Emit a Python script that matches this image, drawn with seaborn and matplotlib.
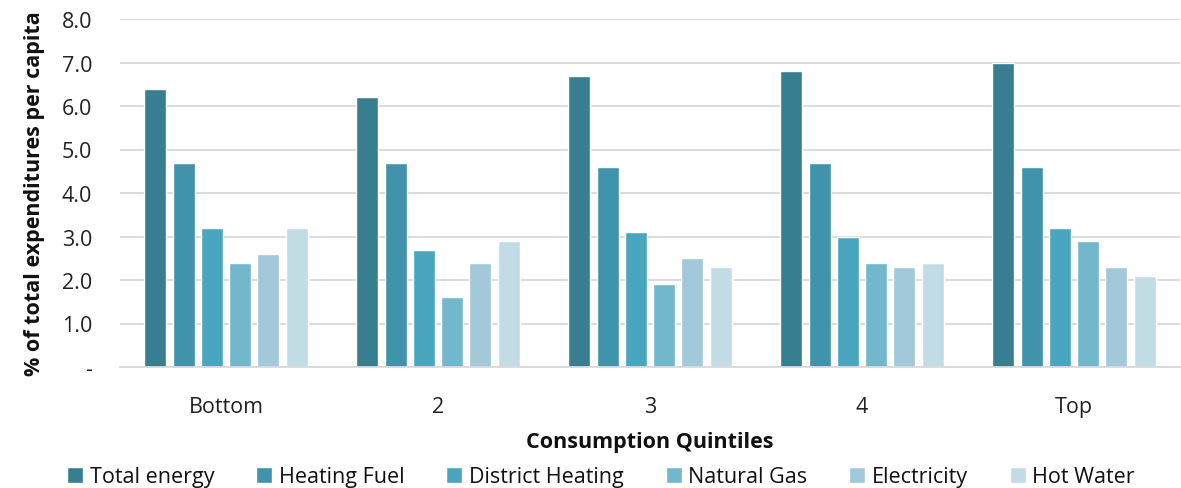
import matplotlib
matplotlib.use("Agg")
import matplotlib.pyplot as plt
import matplotlib.ticker as mticker
import seaborn as sns
import pandas as pd

quintiles = ["Bottom", "2", "3", "4", "Top"]
series = ["Total energy", "Heating Fuel", "District Heating", "Natural Gas", "Electricity", "Hot Water"]
total_energy = [6.4, 6.2, 6.7, 6.8, 7.0]
heating_fuel = [4.7, 4.7, 4.6, 4.7, 4.6]
district_heating = [3.2, 2.7, 3.1, 3.0, 3.2]
natural_gas = [2.4, 1.6, 1.9, 2.4, 2.9]
electricity = [2.6, 2.4, 2.5, 2.3, 2.3]
hot_water = [3.2, 2.9, 2.3, 2.4, 2.1]
colors = ["#367E90", "#4093AA", "#4AA6BF", "#73B7CD", "#A2C9D9", "#C2DCE5"]

values = [total_energy, heating_fuel, district_heating, natural_gas, electricity, hot_water]
rows = []
for name, vals in zip(series, values):
    for q, v in zip(quintiles, vals):
        rows.append({"Quintile": q, "Series": name, "Value": v})
df = pd.DataFrame(rows)

sns.set_theme(style="white")
plt.rcParams["font.family"] = ["Open Sans", "DejaVu Sans"]

fig = plt.figure(figsize=(11.81, 4.89), dpi=100)
ax = fig.add_axes([120 / 1181, 121 / 489, 1060 / 1181, 348 / 489])

sns.barplot(data=df, x="Quintile", y="Value", hue="Series", order=quintiles,
            hue_order=series, palette=colors, width=0.8, gap=0.22,
            saturation=1, ax=ax, legend=True)

ax.set_ylim(0, 8)
ax.set_yticks(range(0, 9))
ax.yaxis.set_major_formatter(mticker.FuncFormatter(lambda v, p: "-" if v == 0 else f"{v:.1f}"))
ax.grid(axis="y", color="#D9D9D9", linewidth=1.3)
ax.set_axisbelow(True)
for s in ["top", "right", "left"]:
    ax.spines[s].set_visible(False)
ax.spines["bottom"].set_color("#D9D9D9")
ax.spines["bottom"].set_linewidth(1.3)
ax.tick_params(axis="both", length=0, labelsize=15.5, colors="#222222")
ax.tick_params(axis="x", pad=21)
ax.tick_params(axis="y", pad=20)
ax.set_xlim(-0.5, 4.5)

ax.set_ylabel("% of total expenditures per capita", fontsize=15.5, fontweight="bold",
              labelpad=12, color="#111111")
ax.set_xlabel("Consumption Quintiles", fontsize=15.5, fontweight="bold", labelpad=10,
              color="#111111")

ax.legend(loc="center", bbox_to_anchor=(0.4538, -110 / 348), ncol=6, frameon=False,
          fontsize=15.5, handlelength=0.75, handleheight=0.75, handletextpad=0.3,
          columnspacing=1.95, borderaxespad=0, labelcolor="#111111")

fig.savefig("out.png", dpi=100)
